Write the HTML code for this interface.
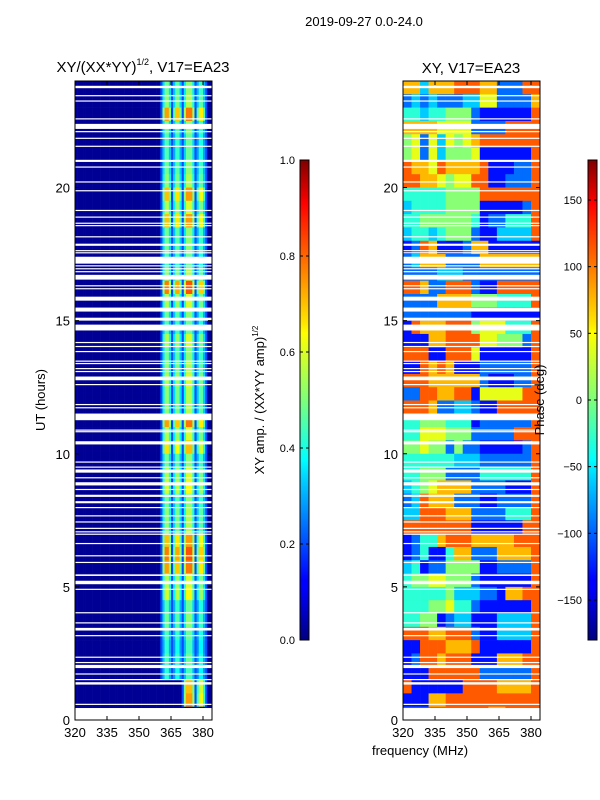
<!DOCTYPE html>
<html><head><meta charset="utf-8"><style>
body{margin:0;background:#fff;}
svg{display:block;font-family:"Liberation Sans",sans-serif;}
</style></head><body>
<svg id="c" width="600" height="800" viewBox="0 0 600 800">
<defs>
<linearGradient id="jet" x1="0" y1="1" x2="0" y2="0">
<stop offset="0" stop-color="#00007f"/><stop offset="0.11" stop-color="#0000ff"/><stop offset="0.125" stop-color="#0000ff"/>
<stop offset="0.34" stop-color="#00d5ff"/><stop offset="0.375" stop-color="#0ff"/><stop offset="0.5" stop-color="#7dff7a"/>
<stop offset="0.64" stop-color="#ff0"/><stop offset="0.66" stop-color="#ffe600"/><stop offset="0.89" stop-color="#ff1300"/>
<stop offset="0.91" stop-color="#f00"/><stop offset="1" stop-color="#7f0000"/>
</linearGradient>
</defs>
<text x="364" y="26" font-size="13" text-anchor="middle">2019-09-27 0.0-24.0</text>
<g id="left"></g><g id="right"></g><g id="axes"></g>
</svg>
<script>
// time bins: 0.5 h each, listed from UT 24 down to UT 0
const rowAmp=[0.45,0.5,0.8,0.45,0.4,0.4,0.45,0.5,0.75,0.55,0.75,0.45,0.45,0.4,0.5,0.85,0.55,0.45,0.4,0.55,0.45,0.5,0.55,0.5,
0.5,0.8,0.55,0.7,0.45,0.55,0.6,0.45,0.5,0.5,0.75,0.85,0.8,0.55,0.6,0.4,0.45,0.4,0.35,0.4,0.35,0.7,0.75,0];
// which of the 4 bright sub-bands are active per row (top to bottom)
const bandOn=["1111","1111","1111","1111","1111","1111","1111","1111","1111","1111","1111","1111","1111","1111","1111","1111","1111","1111","1111","1111","1111","1111","1111","1111",
"1111","1111","1111","1111","1111","1111","1111","1111","1111","1111","1111","1111","1111","1111","1111","1111","1111","1111","1111","1111","1111","0011","0011","0000"];
// sub-band edges in MHz
const bandEdges=[[361,364],[366,369],[371,375],[377,380]];
const bandLevel=[0.9,0.85,0.95,0.8];
// phase grid: 48 rows (UT 24 -> 0), 16 cols of 4 MHz, digit d -> phase level
const phase=["7737778887722288","2323222336622227","4434455521111118","7777666622228888","5626365678888888","5626355561111118",
"8776877778111228","8877656688112228","4444455558888888","3444455551111128","4455555541224448","3443455521133338",
"1287111277111111","2377722227777777","2222333222222222","8872288821188888","2222777755544448","2222222211111111",
"1877788856664448","1117788886655528","8881188861111118","1187871112222228","8887777772111228","2288778816666688",
"8887223321188888","4455544412222228","4466655522222888","5565525221111128","4444443332222228","4455522224444448",
"3456777722221118","2387772221122228","3388877722224448","8888888811111188","1244788877777888","1241147722277778",
"3412255551122228","4556655521111118","4444453332217788","4445564421111118","4455123311133338","8887788821133338",
"1188877781111118","1288788811177788","1118888882222228","8111111888877778","1117788888888888","2228888888778888"];
// flagged UT intervals [start,end]
const flags=[[23.73,23.82],[23.43,23.47],[23.23,23.27],[22.56,22.6],[22.2,22.39],[22.08,22.12],[21.83,21.87],[21.53,21.57],[20.96,21.04],[20.75,20.79],
[20.19,20.23],[19.86,19.9],[19.12,19.16],[18.87,18.91],[18.64,18.68],[18.55,18.59],[18.13,18.17],[17.81,17.89],[17.61,17.65],[17.53,17.57],[17.14,17.4],
[17.04,17.08],[16.93,16.97],[16.82,16.86],[16.54,16.72],[16.29,16.33],[16.18,16.22],[15.75,15.9],[15.34,15.49],[15.0,15.11],[14.63,14.85],[14.16,14.2],
[14.01,14.05],[13.82,13.86],[13.46,13.5],[13.37,13.41],[13.18,13.22],[13.07,13.11],[12.76,12.9],[12.58,12.62],[11.83,11.87],[11.71,11.75],[11.26,11.51],
[10.87,10.91],[10.81,10.85],[10.35,10.47],[9.67,9.71],[9.48,9.52],[9.29,9.41],[9.08,9.12],[8.81,8.93],[8.64,8.68],[8.38,8.46],[8.14,8.22],[7.96,8.0],
[7.65,7.69],[7.42,7.46],[7.18,7.22],[7.05,7.09],[6.96,7.0],[6.61,6.65],[6.15,6.19],[5.9,5.94],[5.41,5.47],[5.1,5.23],[4.89,4.93],[4.01,4.05],[3.63,3.67],
[3.36,3.46],[3.15,3.19],[2.34,2.38],[2.14,2.18],[1.95,2.07],[1.71,1.75],[1.5,1.54],[1.33,1.42],[0.57,0.61],[0,0.45]];
const xTicks=[320,335,350,365,380];
const yTicks=[0,5,10,15,20];
const ampTicks=[0.0,0.2,0.4,0.6,0.8,1.0];
const phaseTicks=[-150,-100,-50,0,50,100,150];

const NS="http://www.w3.org/2000/svg";
function jet(v){v=Math.max(0,Math.min(1,v));
 const f=t=>Math.max(0,Math.min(1,t));
 const r=f(Math.min(4*v-1.5,-4*v+4.5)),g=f(Math.min(4*v-0.5,-4*v+3.5)),b=f(Math.min(4*v+0.5,-4*v+2.5));
 return `rgb(${Math.round(r*255)},${Math.round(g*255)},${Math.round(b*255)})`;}
function mk(tag,attrs,parent){const e=document.createElementNS(NS,tag);for(const k in attrs)e.setAttribute(k,attrs[k]);parent.appendChild(e);return e;}
const PT=81,PB=720;
function yUT(u){return PB-(u/24)*(PB-PT);}
function xF(x0,f){return x0+(f-320)*(128/60);}
const x1=f=>xF(75,f), x2=f=>xF(403,f);

// left amplitude map
const L=document.getElementById('left');
const rowH=(PB-PT)/48;
rowAmp.forEach((a,r)=>{
 const uTop=24-r*0.5;
 for(let f=320;f<384.2;f++){
  let v=0.02;
  bandEdges.forEach((be,bi)=>{
   if(bandOn[r][bi]==='1'){
    if(f>=be[0]&&f<=be[1]){const c=(f===be[0]||f===be[1])?0.7:1;v=Math.max(v,(0.2+0.75*a)*bandLevel[bi]*c);}
    else if(f===be[0]-1||f===be[1]+1){v=Math.max(v,0.2);}
   }});
  const w=Math.min(1,384.2-f);
  const el=mk('rect',{x:x1(f),y:yUT(uTop),width:w*128/60+0.3,height:rowH+0.3,fill:jet(v)},L);
  
  
 }
});
// right phase map
const R=document.getElementById('right');
phase.forEach((row,r)=>{
 const uTop=24-r*0.5;
 for(let c=0;c<16;c++){
  const d=+row[c];
  const el=mk('rect',{x:x2(320+c*4),y:yUT(uTop),width:Math.min(4,384.2-(320+c*4))*128/60+0.3,height:rowH+0.3,fill:jet((d+0.5)/10.8)},R);
  
  
 }
});
// flags
[[75,L],[403,R]].forEach(([x0,g])=>{
 flags.forEach(fl=>{
  const el=mk('rect',{x:x0,y:yUT(fl[1]),width:137,height:Math.max(1.2,yUT(fl[0])-yUT(fl[1])),fill:'#fff'},g);
  
  
 });
});
// axes
const A=document.getElementById('axes');
[75,403].forEach((x0,pi)=>{
 const fr=mk('rect',{x:x0,y:PT,width:137,height:PB-PT,fill:'none',stroke:'#000','stroke-width':1},A);
 
 
 xTicks.forEach(t=>{const x=xF(x0,t);
  mk('line',{x1:x,y1:PB,x2:x,y2:PB-4,stroke:'#000'},A);mk('line',{x1:x,y1:PT,x2:x,y2:PT+4,stroke:'#000'},A);
  const tx=mk('text',{x:x,y:PB+17,'font-size':13,'text-anchor':'middle'},A);tx.textContent=t;
  
  });
 yTicks.forEach(t=>{const y=yUT(t);
  mk('line',{x1:x0,y1:y,x2:x0+4,y2:y,stroke:'#000'},A);mk('line',{x1:x0+137,y1:y,x2:x0+133,y2:y,stroke:'#000'},A);
  const tx=mk('text',{x:x0-5,y:y+5,'font-size':13,'text-anchor':'end'},A);tx.textContent=t;
  
  });
});
function txt(s,attrs,name){const t=mk('text',attrs,A);t.innerHTML=s;return t;}
txt('XY/(XX*YY)<tspan font-size="9" dy="-7">1/2</tspan><tspan dy="7">, V17=EA23</tspan>',{x:143,y:72,'font-size':15,'text-anchor':'middle'},'left-title');
txt('XY, V17=EA23',{x:471,y:73,'font-size':15,'text-anchor':'middle'},'right-title');
txt('UT (hours)',{x:45,y:400,'font-size':13,'text-anchor':'middle',transform:'rotate(-90 45 400)'},'y-axis-title');
txt('frequency (MHz)',{x:420,y:755,'font-size':13,'text-anchor':'middle'},'x-axis-title');
// colorbars
[[300,'amp-colorbar'],[588,'phase-colorbar']].forEach(([x,n])=>{
 const cb=mk('rect',{x:x,y:160,width:9,height:480,fill:'url(#jet)',stroke:'#000','stroke-width':1},A);
 
 
});
ampTicks.forEach(t=>{const y=640-t*480;
 mk('line',{x1:300,y1:y,x2:303,y2:y,stroke:'#000'},A);mk('line',{x1:309,y1:y,x2:306,y2:y,stroke:'#000'},A);
 txt(t.toFixed(1),{x:295,y:y+4,'font-size':11,'text-anchor':'end'},'amp-colorbar-tick');});
phaseTicks.forEach(t=>{const y=400-t*480/360;
 mk('line',{x1:588,y1:y,x2:591,y2:y,stroke:'#000'},A);mk('line',{x1:597,y1:y,x2:594,y2:y,stroke:'#000'},A);
 txt(t<0?'\u2212'+(-t):''+t,{x:582,y:y+4,'font-size':11,'text-anchor':'end'},'phase-colorbar-tick');});
txt('XY amp. / (XX*YY amp)<tspan font-size="8" dy="-6">1/2</tspan>',{x:264,y:400,'font-size':13,'text-anchor':'middle',transform:'rotate(-90 264 400)'},'amp-colorbar-label');
txt('Phase (deg)',{x:544,y:400,'font-size':13,'text-anchor':'middle',transform:'rotate(-90 544 400)'},'phase-colorbar-label');
</script>
</body></html>
